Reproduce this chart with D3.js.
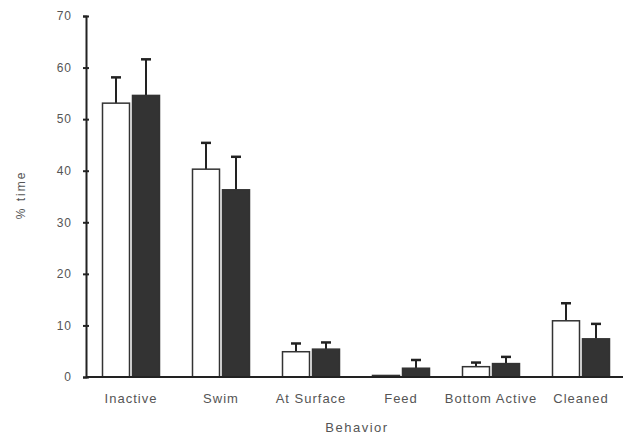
<!DOCTYPE html>
<html><head><meta charset="utf-8">
<script src="https://cdn.jsdelivr.net/npm/d3@7"></script>
<style>body{margin:0;background:#fff}svg{display:block}text{font-family:"Liberation Sans",Arial,sans-serif}</style>
</head><body><svg id="c" width="623" height="436"></svg>
<script>
const categories = ["Inactive","Swim","At Surface","Feed","Bottom Active","Cleaned"];
const whiteValues = [53.1, 40.3, 4.9, 0.3, 2.0, 10.9];
const whiteErrors = [5.0, 5.1, 1.6, 0, 0.8, 3.4];
const darkValues = [54.6, 36.3, 5.4, 1.7, 2.6, 7.4];
const darkErrors = [7.0, 6.4, 1.3, 1.6, 1.3, 2.9];
const yTicks = [0,10,20,30,40,50,60,70];

const svg = d3.select("#c");
const x0 = 86, y0 = 377, yTop = 16;
const x = d3.scaleBand().domain(categories).range([x0, x0 + 540]).padding(0);
const y = d3.scaleLinear().domain([0,70]).range([y0, yTop]);
const bw = 27, gap = 1.5;

const series = [
  {vals: whiteValues, errs: whiteErrors, fill: "#fff", off: -gap - bw},
  {vals: darkValues, errs: darkErrors, fill: "#333", off: gap}
];
series.forEach(s => {
  const g = svg.append("g");
  categories.forEach((c, i) => {
    const cx = x(c) + x.bandwidth()/2;
    const bx = cx + s.off;
    const v = s.vals[i], e = s.errs[i];
    const ex = bx + bw/2;
    if (e > 0) {
      g.append("line").attr("x1", ex).attr("x2", ex).attr("y1", y(v)).attr("y2", y(v+e))
        .attr("stroke", "#222").attr("stroke-width", 2);
      g.append("line").attr("x1", ex-5).attr("x2", ex+5).attr("y1", y(v+e)).attr("y2", y(v+e))
        .attr("stroke", "#222").attr("stroke-width", 2.5);
    }
    g.append("rect").attr("x", bx).attr("y", y(v)).attr("width", bw).attr("height", y0 - y(v))
      .attr("fill", s.fill).attr("stroke", "#333").attr("stroke-width", 1.5);
  });
});

// y axis
const yAxis = d3.axisLeft(y).tickValues(yTicks).tickSize(3).tickPadding(11).tickFormat(d3.format("d"));
const ya = svg.append("g").attr("transform", `translate(${x0},0)`).call(yAxis);
ya.select(".domain").attr("stroke", "#222").attr("stroke-width", 2);
ya.selectAll(".tick line").attr("stroke", "#222").attr("stroke-width", 2).attr("x2", 3).attr("x1", -3);
ya.selectAll(".tick text").attr("fill", "#555").style("font-size", "12px").style("letter-spacing", "1px");

// x axis
const xAxis = d3.axisBottom(x).tickSize(0).tickPadding(17);
const xa = svg.append("g").attr("transform", `translate(0,${y0})`).call(xAxis);
xa.select(".domain").attr("stroke", "#222").attr("stroke-width", 2).attr("d", `M${x0},0H623`);
xa.selectAll(".tick text").attr("fill", "#555").style("font-size", "13px").style("letter-spacing", "1px");

svg.append("text").attr("x", 357).attr("y", 432).attr("text-anchor", "middle")
  .attr("fill", "#555").style("font-size", "13px").style("letter-spacing", "1.5px").text("Behavior");
svg.append("text").attr("transform", "translate(25,195) rotate(-90)").attr("text-anchor", "middle")
  .attr("fill", "#555").style("font-size", "12px").style("letter-spacing", "2px").text("% time");
</script></body></html>
